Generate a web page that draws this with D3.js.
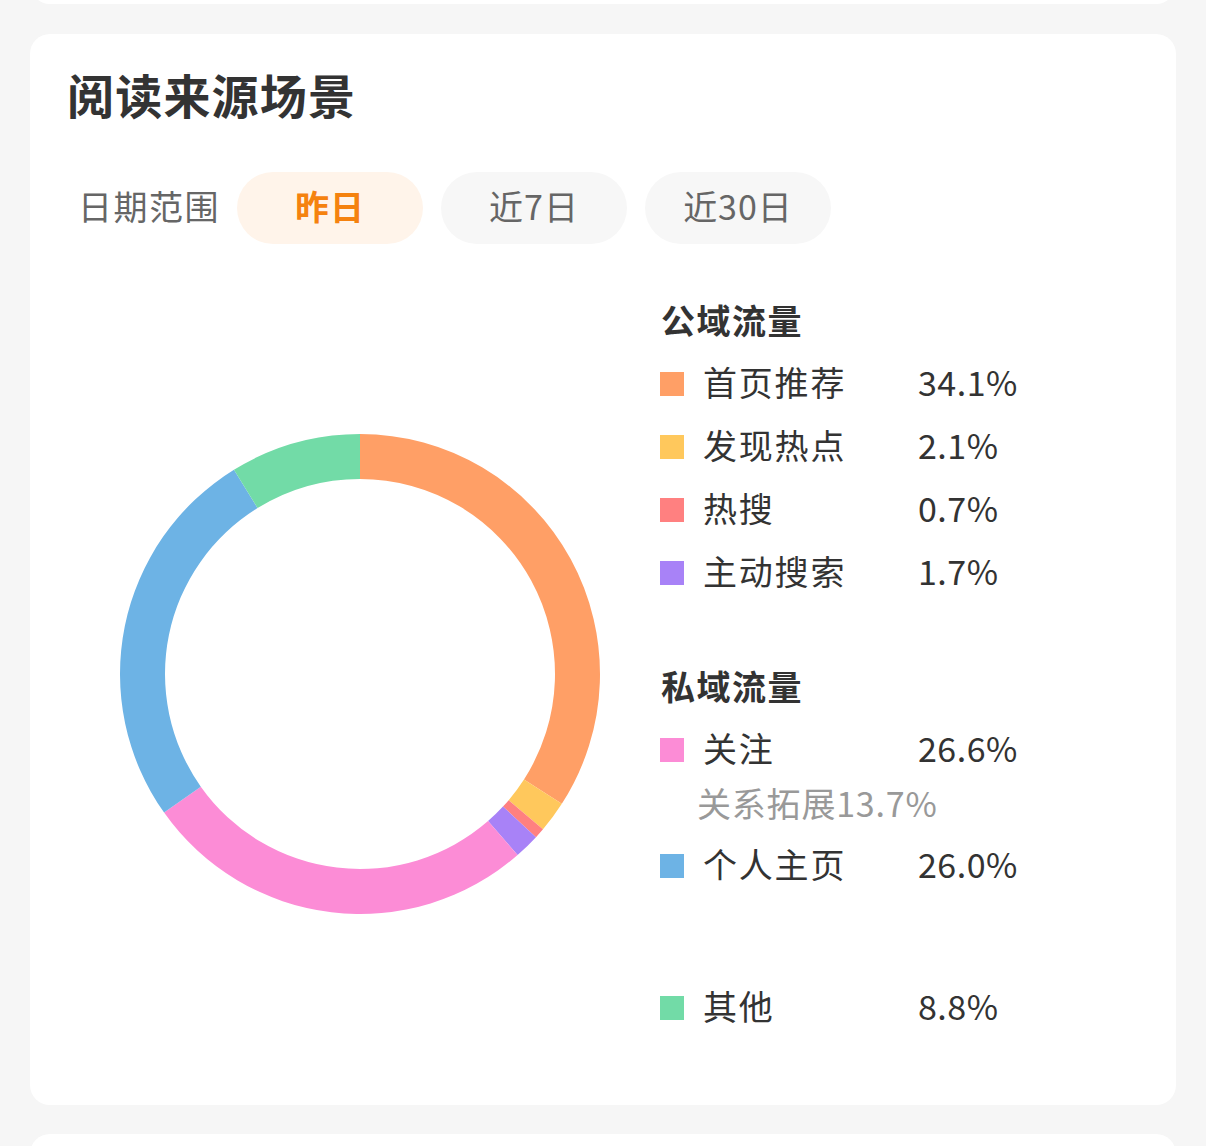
<!DOCTYPE html>
<html><head><meta charset="utf-8">
<script src="https://cdn.jsdelivr.net/npm/d3@7"></script>
<style>
html,body{margin:0;padding:0;background:#f6f6f6;}
svg{display:block;}
text{font-family:"Noto Sans CJK SC","Noto Sans",sans-serif;}
</style></head>
<body>
<script>
const title = "阅读来源场景";
const dateLabel = "日期范围";
const dateOptions = ["昨日", "近7日", "近30日"];
const selectedOption = 0;
const categories = ["首页推荐", "发现热点", "热搜", "主动搜索", "关注", "个人主页", "其他"];
const values = [34.1, 2.1, 0.7, 1.7, 26.6, 26.0, 8.8];
const colors = ["#FF9F66", "#FFC85C", "#FF8080", "#A882F7", "#FC8CD6", "#6DB3E5", "#72DBA7"];
const groups = ["公域流量", "公域流量", "公域流量", "公域流量", "私域流量", "私域流量", null];
const subNote = {4: "关系拓展13.7%"};

const W = 1206, H = 1146;
const svg = d3.select("body").append("svg").attr("width", W).attr("height", H);

// background cards
svg.append("rect").attr("x", 30).attr("y", -40).attr("width", 1146).attr("height", 44).attr("rx", 20).attr("fill", "#fff");
svg.append("rect").attr("x", 30).attr("y", 34).attr("width", 1146).attr("height", 1071).attr("rx", 20).attr("fill", "#fff");
svg.append("rect").attr("x", 30).attr("y", 1134).attr("width", 1146).attr("height", 60).attr("rx", 20).attr("fill", "#fff");

svg.append("text").attr("x", 67).attr("y", 114).attr("font-size", 47).attr("letter-spacing", 1.2).attr("font-weight", 700)
  .attr("fill", "#333").text(title);

svg.append("text").attr("x", 78).attr("y", 208).attr("dy", "0.36em").attr("font-size", 34).attr("letter-spacing", 1.5)
  .attr("fill", "#666").text(dateLabel);

const pillX = d3.scaleBand().domain(d3.range(dateOptions.length)).range([237, 831]).paddingInner(18/204);
const pills = svg.selectAll("g.pill").data(dateOptions).join("g").attr("class", "pill")
  .attr("transform", (d, i) => `translate(${pillX(i)},172)`);
pills.append("rect").attr("width", pillX.bandwidth()).attr("height", 72).attr("rx", 36)
  .attr("fill", (d, i) => i === selectedOption ? "#FFF4EA" : "#F7F7F7");
pills.append("text").attr("x", pillX.bandwidth() / 2).attr("y", 36).attr("dy", "0.36em")
  .attr("text-anchor", "middle").attr("font-size", 34).attr("letter-spacing", 1)
  .attr("font-weight", (d, i) => i === selectedOption ? 700 : 400)
  .attr("fill", (d, i) => i === selectedOption ? "#F5820F" : "#666").text(d => d);

// donut
const cx = 360, cy = 674, R = 240, r = 195;
const pie = d3.pie().sort(null).value(d => d.v);
const arc = d3.arc().innerRadius(r).outerRadius(R);
const data = categories.map((c, i) => ({c, v: values[i], col: colors[i]}));
svg.append("g").attr("transform", `translate(${cx},${cy})`)
  .selectAll("path").data(pie(data)).join("path")
  .attr("d", arc).attr("fill", d => d.data.col);

// legend
const legend = svg.append("g");
const rowY = [384, 447, 510, 573, 750, 866, 1008];
const headerY = {"公域流量": 322, "私域流量": 688};
Object.entries(headerY).forEach(([g, y]) => {
  legend.append("text").attr("x", 661).attr("y", y).attr("dy", "0.36em").attr("font-size", 34).attr("letter-spacing", 1.5)
    .attr("font-weight", 700).attr("fill", "#333").text(g);
});
const rows = legend.selectAll("g.row").data(data).join("g").attr("class", "row")
  .attr("transform", (d, i) => `translate(0,${rowY[i]})`);
rows.append("rect").attr("x", 660).attr("y", -12).attr("width", 24).attr("height", 24).attr("fill", d => d.col);
rows.append("text").attr("x", 703).attr("dy", "0.36em").attr("font-size", 34).attr("letter-spacing", 1.8).attr("fill", "#333").text(d => d.c);
rows.append("text").attr("x", 918).attr("dy", "0.36em").attr("font-size", 34).attr("letter-spacing", 0.5).attr("fill", "#333")
  .text(d => d.v.toFixed(1) + "%");
Object.entries(subNote).forEach(([i, t]) => {
  legend.append("text").attr("x", 697).attr("y", rowY[i] + 55).attr("dy", "0.36em").attr("font-size", 34).attr("letter-spacing", 0.8)
    .attr("fill", "#999").text(t);
});
</script>
</body></html>
